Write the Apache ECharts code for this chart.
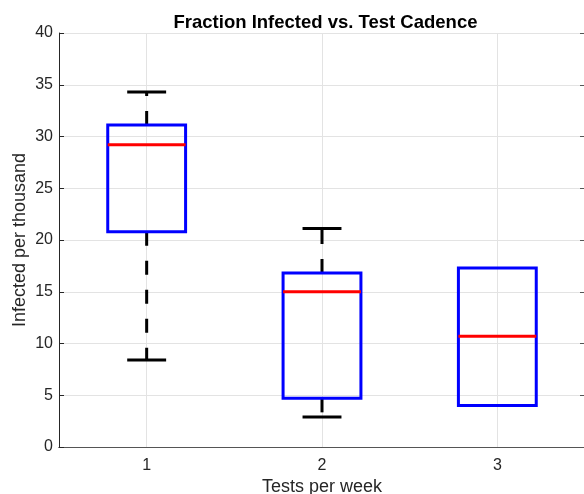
<!DOCTYPE html>
<html>
<head>
<meta charset="utf-8">
<title>Fraction Infected vs. Test Cadence</title>
<script src="https://cdn.jsdelivr.net/npm/echarts@6/dist/echarts.min.js"></script>
<style>
  html, body { margin: 0; padding: 0; background: #fff; }
  #chart { width: 584px; height: 494px; }
</style>
</head>
<body>
<div id="chart"></div>
<script>
// 数据: 每周检测次数 -> 箱线图五数
const cadence = ['1', '2', '3']
const lowWhisker = [8.4, 2.9, 4.0]
const q1 = [20.8, 4.7, 4.0]
const medians = [29.2, 15.0, 10.7]
const q3 = [31.1, 16.8, 17.3]
const highWhisker = [34.3, 21.1, 17.3]
const yTicks = { min: 0, max: 40, step: 5 }

const font = 'Liberation Sans, Arial, Helvetica, sans-serif'
const axisColor = '#262626'
const gridColor = '#e3e3e3'

let boxData = cadence.map((c, i) => [i, lowWhisker[i], q1[i], medians[i], q3[i], highWhisker[i]])

// 自定义箱线图: 蓝框 红中位线 黑色虚线须
function renderBox(params, api) {
  let x = api.value(0)
  let pMin = api.coord([x, api.value(1)])
  let pQ1 = api.coord([x, api.value(2)])
  let pMed = api.coord([x, api.value(3)])
  let pQ3 = api.coord([x, api.value(4)])
  let pMax = api.coord([x, api.value(5)])
  let band = api.size([1, 0])[0]
  let half = band * 0.222
  let cap = band * 0.111
  let cx = pMed[0]
  let black = { stroke: '#000', lineWidth: 3, fill: null }
  let dashed = { stroke: '#000', lineWidth: 3, lineDash: [14, 15], fill: null }
  let children = []
  // 须长度为0时不画(被箱体遮住)
  if (api.value(5) > api.value(4)) {
    children.push({ type: 'line', shape: { x1: cx, y1: pQ3[1], x2: cx, y2: pMax[1] }, style: dashed })
    children.push({ type: 'line', shape: { x1: cx - cap, y1: pMax[1], x2: cx + cap, y2: pMax[1] }, style: black })
  }
  if (api.value(1) < api.value(2)) {
    children.push({ type: 'line', shape: { x1: cx, y1: pQ1[1], x2: cx, y2: pMin[1] }, style: dashed })
    children.push({ type: 'line', shape: { x1: cx - cap, y1: pMin[1], x2: cx + cap, y2: pMin[1] }, style: black })
  }
  children.push({
    type: 'rect',
    shape: { x: cx - half, y: pQ3[1], width: half * 2, height: pQ1[1] - pQ3[1] },
    style: { stroke: '#0000ff', lineWidth: 3, fill: null }
  })
  children.push({ type: 'line', shape: { x1: cx - half, y1: pMed[1], x2: cx + half, y2: pMed[1] }, style: { stroke: '#ff0000', lineWidth: 3 } })
  return { type: 'group', children: children }
}

let myChart = echarts.init(document.getElementById('chart'))
let option = {
  animation: false,
  backgroundColor: '#fff',
  title: {
    text: 'Fraction Infected vs. Test Cadence',
    left: 320.5,
    textAlign: 'center',
    top: 8,
    textStyle: { color: '#000', fontFamily: font, fontSize: 18.5, fontWeight: 'bold' }
  },
  grid: { left: 59, top: 33, width: 526, height: 414, outerBoundsMode: 'none', containLabel: false },
  xAxis: [{
    type: 'category',
    data: cadence,
    boundaryGap: true,
    name: 'Tests per week',
    nameLocation: 'middle',
    nameGap: 31,
    nameMoveOverlap: false,
    nameTextStyle: { color: axisColor, fontFamily: font, fontSize: 18 },
    axisLine: { lineStyle: { color: axisColor, width: 1 } },
    axisTick: { inside: true, alignWithLabel: true, length: 5, lineStyle: { color: axisColor } },
    axisLabel: { color: axisColor, fontFamily: font, fontSize: 16, margin: 11 },
    splitLine: { show: true, alignWithLabel: true, lineStyle: { color: gridColor, width: 1 } }
  }, {
    type: 'category',
    data: cadence,
    position: 'top',
    boundaryGap: true,
    axisLine: { lineStyle: { color: '#555', width: 1 } },
    axisTick: { inside: true, alignWithLabel: true, length: 5, lineStyle: { color: '#555' } },
    axisLabel: { show: false },
    splitLine: { show: false }
  }],
  yAxis: [{
    type: 'value',
    min: yTicks.min,
    max: yTicks.max,
    interval: yTicks.step,
    name: 'Infected per thousand',
    nameLocation: 'middle',
    nameGap: 30,
    nameMoveOverlap: false,
    nameTextStyle: { color: axisColor, fontFamily: font, fontSize: 18 },
    axisLine: { show: true, lineStyle: { color: axisColor, width: 1 } },
    axisTick: { show: true, inside: true, length: 5, lineStyle: { color: axisColor } },
    axisLabel: { color: axisColor, fontFamily: font, fontSize: 16, margin: 6 },
    splitLine: { show: true, lineStyle: { color: gridColor, width: 1 } }
  }, {
    type: 'value',
    position: 'right',
    min: yTicks.min,
    max: yTicks.max,
    interval: yTicks.step,
    axisLine: { show: true, lineStyle: { color: '#555', width: 1 } },
    axisTick: { show: true, inside: true, length: 5, lineStyle: { color: '#555' } },
    axisLabel: { show: false },
    splitLine: { show: false }
  }],
  series: [{
    type: 'custom',
    name: 'box',
    renderItem: renderBox,
    encode: { x: 0, y: [1, 2, 3, 4, 5] },
    data: boxData,
    silent: true
  }]
}
myChart.setOption(option)
</script>
</body>
</html>
